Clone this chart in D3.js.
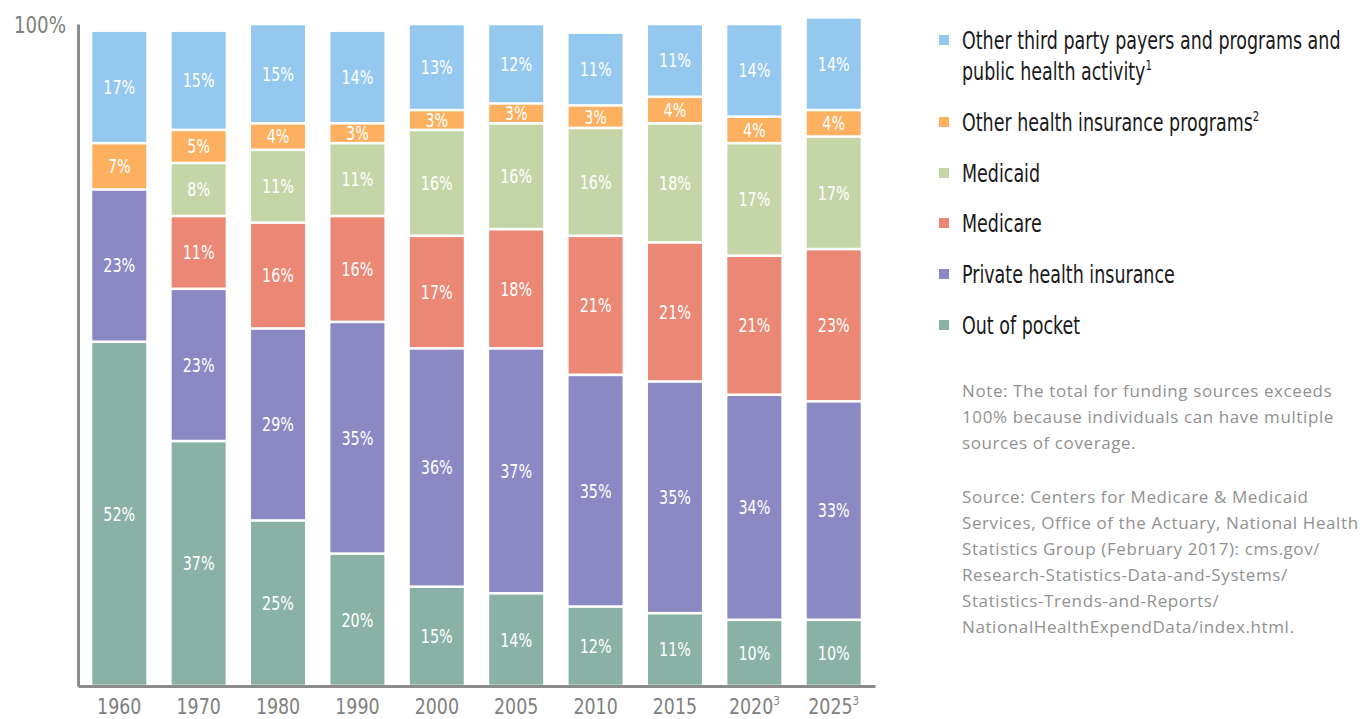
<!DOCTYPE html>
<html><head><meta charset="utf-8">
<script src="https://cdn.jsdelivr.net/npm/d3@7"></script>
<style>
body{margin:0;background:#fff;}
.cond{font-family:'DejaVu Sans Condensed','Liberation Sans Narrow',sans-serif;font-stretch:condensed;}
</style></head>
<body><svg id="c" width="1362" height="719"></svg>
<script>
const years = ["1960","1970","1980","1990","2000","2005","2010","2015","2020","2025"];
const yearSup = ["","","","","","","","","3","3"];
const outOfPocket = [52,37,25,20,15,14,12,11,10,10];
const privateIns  = [23,23,29,35,36,37,35,35,34,33];
const medicare    = [0,11,16,16,17,18,21,21,21,23];
const medicaid    = [0,8,11,11,16,16,16.3,18,17,17];
const otherIns    = [7,5,4,3,3,3,3.4,4,4,4];
const otherThird  = [17,15,15,14,13,12,11,11,14,14];
const seriesNames = ["Out of pocket","Private health insurance","Medicare","Medicaid","Other health insurance programs","Other third party payers and programs and public health activity"];
const seriesColors = ["#8ab1a6","#8a89c4","#ea8775","#c4d6a8","#fdb05f","#95c8ef"];
const legendLines = [
  [["Other third party payers and programs and",""],["public health activity","1"]],
  [["Other health insurance programs","2"]],
  [["Medicaid",""]],
  [["Medicare",""]],
  [["Private health insurance",""]],
  [["Out of pocket",""]]
];
const legendColors = ["#95c8ef","#fdb05f","#c4d6a8","#ea8775","#8a89c4","#8ab1a6"];
const noteLines = ["Note: The total for funding sources exceeds","100% because individuals can have multiple","sources of coverage."];
const sourceLines = ["Source: Centers for Medicare & Medicaid","Services, Office of the Actuary, National Health","Statistics Group (February 2017): cms.gov/","Research-Statistics-Data-and-Systems/","Statistics-Trends-and-Reports/","NationalHealthExpendData/index.html."];

const svg = d3.select("#c");
const seriesData = [outOfPocket, privateIns, medicare, medicaid, otherIns, otherThird];
const rows = years.map((y,i)=>{const o={year:y}; seriesNames.forEach((s,k)=>o[s]=seriesData[k][i]); return o;});
const stack = d3.stack().keys(seriesNames)(rows);

const x = d3.scaleBand().domain(years).range([78,875]).paddingInner(0.32).paddingOuter(0.18);
const y = d3.scaleLinear().domain([0,100]).range([686,24]);

const g = svg.append("g");
stack.forEach((layer,k)=>{
  const lg = g.append("g");
  layer.forEach((d,i)=>{
    const v = d[1]-d[0];
    if(v<=0) return;
    const y0 = y(d[1]), y1 = y(d[0]);
    lg.append("rect").attr("x",x(years[i])).attr("width",x.bandwidth())
      .attr("y",y0+1.3).attr("height",Math.max(0,y1-y0-2.6)).attr("fill",seriesColors[k]);
    const cx = x(years[i])+x.bandwidth()/2;
    lg.append("text").attr("class","cond")
      .attr("transform",`translate(${cx},${(y0+y1)/2}) scale(0.84,1)`)
      .attr("dy","0.36em").attr("text-anchor","middle")
      .attr("fill","#fff").attr("font-size",19).text(Math.round(v)+"%");
  });
});

// axes
const xAxis = svg.append("g").attr("transform","translate(0,686)")
  .call(d3.axisBottom(x).tickSize(0).tickPadding(12));
xAxis.select(".domain").attr("stroke","#8c8c8c").attr("stroke-width",3);
xAxis.selectAll("text").attr("class","cond").attr("font-size",22).attr("fill","#808080")
  .attr("transform","scale(0.88,1)")
  .each(function(d,i){
    const t=d3.select(this); t.text(null);
    t.append("tspan").text(d);
    if(yearSup[i]) t.append("tspan").attr("font-size",13).attr("dy","-0.7em").text(yearSup[i]);
  });
const yAxis = svg.append("g").attr("transform","translate(78,0)")
  .call(d3.axisLeft(y).tickValues([100]).tickSize(0).tickPadding(12).tickFormat(d=>d+"%"));
yAxis.select(".domain").attr("stroke","#8c8c8c").attr("stroke-width",3);
yAxis.selectAll("text").attr("class","cond").attr("font-size",23).attr("fill","#808080").attr("dy","0.36em")
  .attr("transform","translate(-12,0) scale(0.88,1) translate(12,0)");

// legend
const legY = [40,122,173,223,274,325];
const lg = svg.append("g");
legendLines.forEach((lines,k)=>{
  lg.append("rect").attr("x",939).attr("y",legY[k]-5).attr("width",10).attr("height",10).attr("fill",legendColors[k]);
  lines.forEach((ln,j)=>{
    const t = lg.append("text").attr("class","cond")
      .attr("transform",`translate(962,${legY[k]+j*31}) scale(0.81,1)`).attr("dy","0.36em")
      .attr("font-size",24).attr("font-weight",500).attr("fill","#1a1a1a");
    t.append("tspan").text(ln[0]);
    if(ln[1]) t.append("tspan").attr("font-size",14).attr("dy","-0.7em").text(ln[1]);
  });
});

// notes
const ng = svg.append("g").attr("font-family","'Open Sans', sans-serif").attr("font-size",17)
  .attr("letter-spacing",0.6).attr("fill","#919191");
noteLines.forEach((l,i)=>ng.append("text").attr("x",962).attr("y",391+i*26).attr("dy","0.36em").text(l));
sourceLines.forEach((l,i)=>ng.append("text").attr("x",962).attr("y",497+i*26).attr("dy","0.36em").text(l));
</script></body></html>
